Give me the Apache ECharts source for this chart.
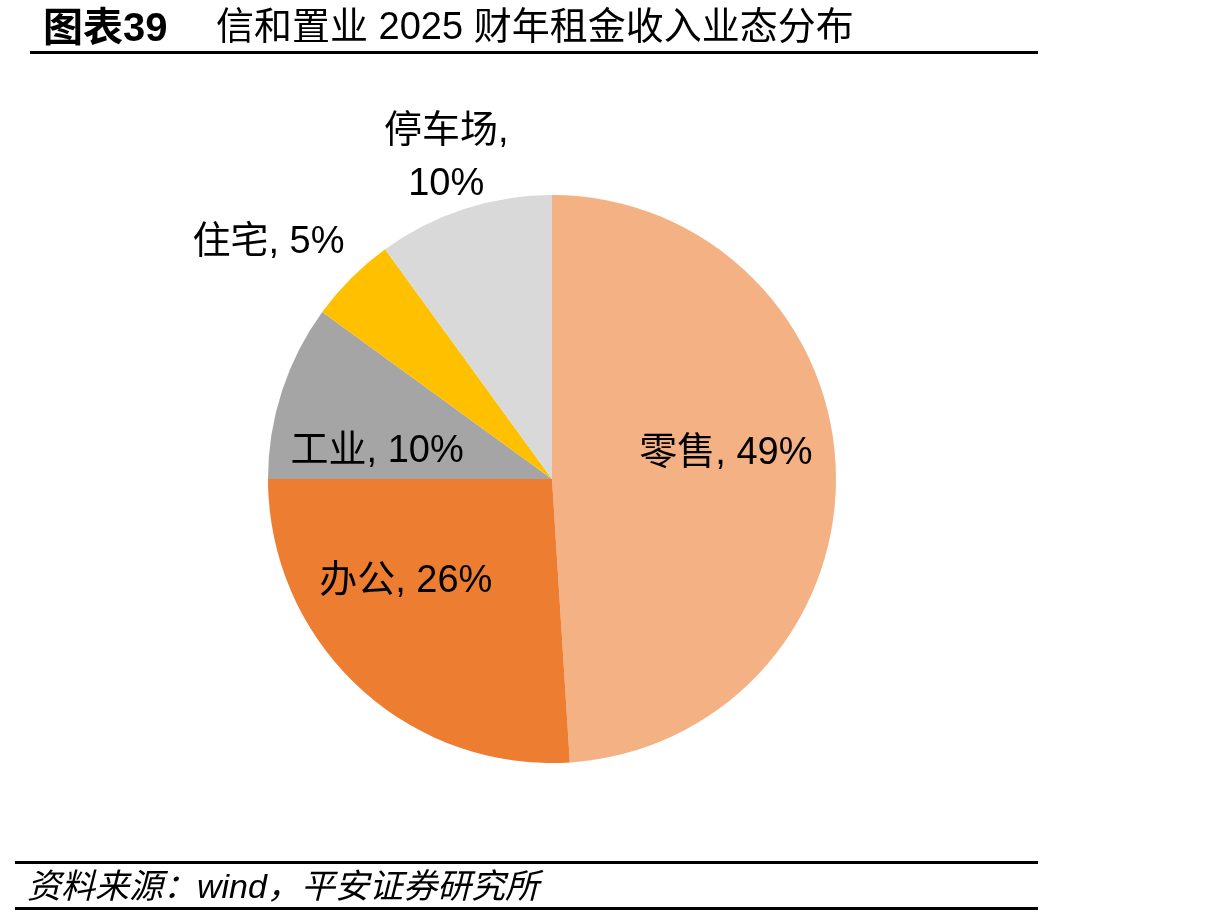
<!DOCTYPE html>
<html>
<head>
<meta charset="utf-8">
<title>信和置业 2025 财年租金收入业态分布</title>
<script src="https://cdn.jsdelivr.net/npm/echarts@6/dist/echarts.min.js"></script>
<style>
  html, body { margin: 0; padding: 0; background: #fff; }
  #pie { width: 1229px; height: 918px; }
</style>
</head>
<body>
<div id="pie"></div>
<script>
// 数据
const categories = ["零售", "办公", "工业", "住宅", "停车场"];
const shares = [49, 26, 10, 5, 10];
const colors = ["#F4B183", "#ED7D31", "#A5A5A5", "#FFC000", "#D9D9D9"];
// 标签相对默认 inside 位置的偏移
const labelShift = [[29, -21], [-47, -3], [-37, 17], [-181, -134], [-61, -183]];

const font = '"Liberation Sans", Arial, "Noto Sans CJK SC", sans-serif';

const myChart = echarts.init(document.getElementById("pie"));

let option = {
  backgroundColor: "#fff",
  animation: false,
  title: [
    {
      text: "图表39",
      left: 38,
      top: 5,
      textStyle: { fontFamily: font, fontSize: 40, fontWeight: "bold", color: "#000" },
    },
    {
      text: "信和置业 2025 财年租金收入业态分布",
      left: 211,
      top: 5,
      textStyle: { fontFamily: font, fontSize: 38, fontWeight: "normal", color: "#000" },
    },
    {
      text: "资料来源：wind，平安证券研究所",
      left: 22,
      top: 867,
      textStyle: { fontFamily: font, fontSize: 34, fontWeight: "normal", fontStyle: "italic", color: "#000" },
    },
  ],
  graphic: [
    { type: "rect", shape: { x: 30, y: 51, width: 1008, height: 3 }, style: { fill: "#000" } },
    { type: "rect", shape: { x: 15, y: 861, width: 1023, height: 3 }, style: { fill: "#000" } },
    { type: "rect", shape: { x: 15, y: 907, width: 1023, height: 3 }, style: { fill: "#000" } },
  ],
  series: [
    {
      type: "pie",
      center: [552, 479],
      radius: [0, 284],
      startAngle: 90,
      clockwise: true,
      avoidLabelOverlap: false,
      itemStyle: { borderWidth: 0 },
      label: {
        show: true,
        position: "inside",
        color: "#000",
        fontFamily: font,
        fontSize: 38,
        lineHeight: 53,
        align: "center",
        formatter: function (p) {
          if (p.name === "停车场") return p.name + ",\n" + p.value + "%";
          return p.name + ", " + p.value + "%";
        },
      },
      labelLine: { show: false },
      labelLayout: function (params) {
        const s = labelShift[params.dataIndex];
        return { dx: s[0], dy: s[1] };
      },
      emphasis: { disabled: true },
      data: categories.map((name, i) => ({
        name: name,
        value: shares[i],
        itemStyle: { color: colors[i] },
      })),
    },
  ],
};

myChart.setOption(option);
</script>
</body>
</html>
